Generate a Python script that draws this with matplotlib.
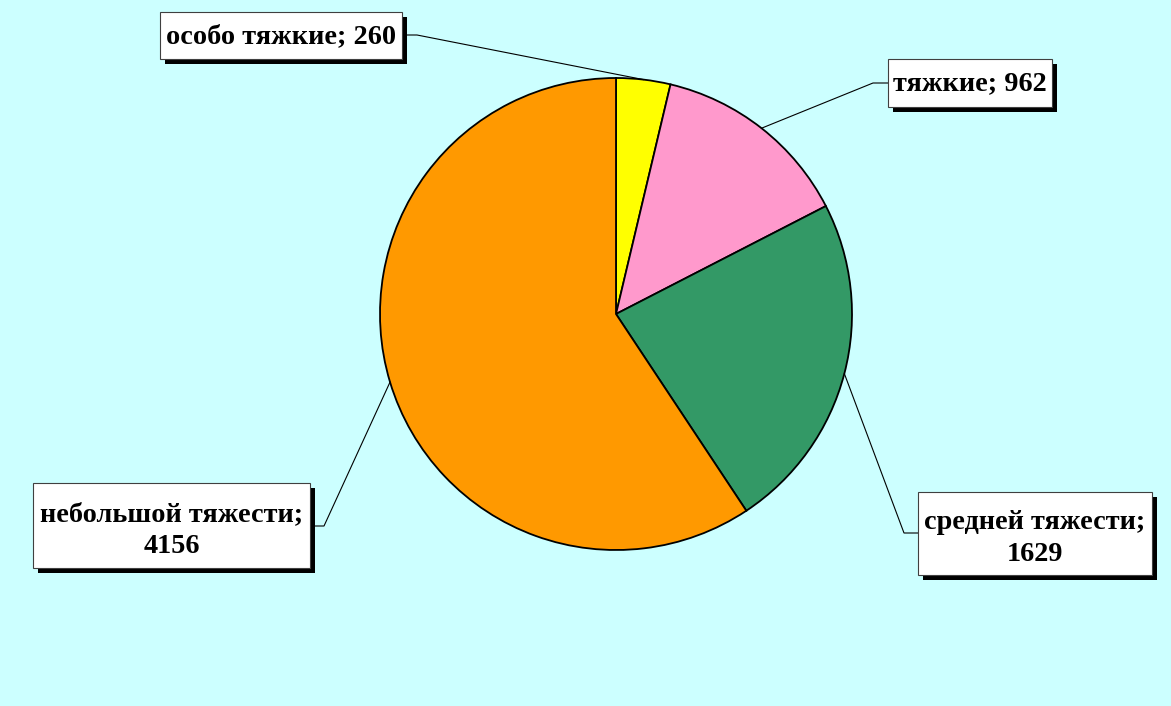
import matplotlib
matplotlib.use('Agg')
import matplotlib.pyplot as plt
from matplotlib.patches import Rectangle
import numpy as np

# Данные
categories = ['особо тяжкие', 'тяжкие', 'средней тяжести', 'небольшой тяжести']
values = [260, 962, 1629, 4156]
colors = ['#FFFF00', '#FF99CC', '#339966', '#FF9900']
labels = ['особо тяжкие; 260', 'тяжкие; 962', 'средней тяжести;\n1629', 'небольшой тяжести;\n4156']

# рамки подписей (x0, y0, x1, y1) в пикселях, y сверху вниз
boxes = [(160, 12, 402, 59), (888, 59, 1052, 107), (918, 492, 1152, 575), (33, 483, 310, 568)]
elbows = [(417, 35), (873, 83), (904, 533), (324, 526)]

W, H = 1171, 706
bg = '#CCFFFF'

fig = plt.figure(figsize=(W / 100, H / 100), dpi=100)
fig.patch.set_facecolor(bg)
ax = fig.add_axes([0, 0, 1, 1])
ax.set_facecolor(bg)

cx, cy, r = 616, 314, 236
# ось y перевёрнута, поэтому против часовой = по часовой на картинке
wedges, _ = ax.pie(values, colors=colors, center=(cx, cy), radius=r,
                   startangle=-90, counterclock=True,
                   wedgeprops=dict(edgecolor='black', linewidth=1.3))
ax.set_xlim(0, W)
ax.set_ylim(H, 0)
ax.set_aspect('equal')
ax.axis('off')

for w, lab, box, el in zip(wedges, labels, boxes, elbows):
    th = np.deg2rad((w.theta1 + w.theta2) / 2)
    px = cx + r * np.cos(th)
    py = cy + r * np.sin(th)
    x0, y0, x1, y1 = box
    # выноска
    bx = x1 if el[0] > x1 else x0
    ax.plot([bx, el[0], px], [el[1], el[1], py], color='black', lw=0.8, zorder=3)
    # тень и рамка
    ax.add_patch(Rectangle((x0 + 5, y0 + 5), x1 - x0, y1 - y0, facecolor='black',
                           edgecolor='none', zorder=4))
    ax.add_patch(Rectangle((x0, y0), x1 - x0, y1 - y0, facecolor='white',
                           edgecolor='#404040', lw=0.8, zorder=5))
    dy = 5 if '\n' in lab else 1
    ax.text((x0 + x1) / 2, (y0 + y1) / 2 + dy, lab, ha='center', va='center',
            fontsize=20.3, fontweight='bold', family='Liberation Serif',
            linespacing=1.36, zorder=6)

fig.savefig('out.png', dpi=100, facecolor=bg)
